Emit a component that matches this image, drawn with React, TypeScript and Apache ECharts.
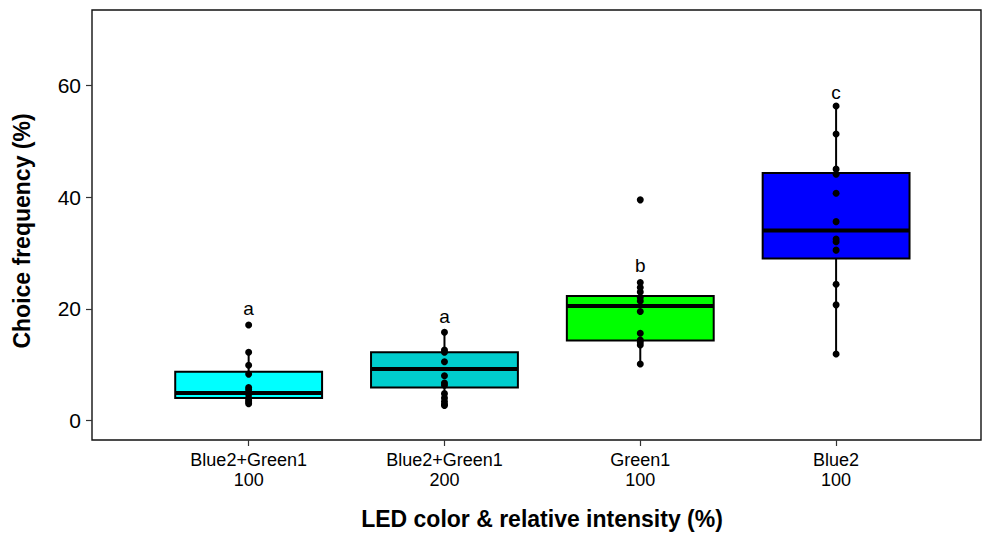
import React, { useEffect, useRef } from "react";
import * as echarts from "echarts";

const categories = ["Blue2+Green1\n100", "Blue2+Green1\n200", "Green1\n100", "Blue2\n100"];
const boxColors = ["#00FFFF", "#00CDCD", "#00FF00", "#0000FF"];
// [lower whisker, Q1, median, Q3, upper whisker]
const boxStats = [
  [3.0, 4.0, 4.9, 8.7, 12.2],
  [2.7, 5.9, 9.2, 12.2, 15.8],
  [10.1, 14.3, 20.5, 22.3, 24.7],
  [11.9, 29.0, 34.0, 44.3, 56.3],
];
const pointsG1 = [17.1, 12.2, 9.9, 8.3, 5.9, 5.5, 5.0, 4.7, 4.0, 3.6, 3.3, 3.0];
const pointsG2 = [15.8, 12.6, 12.2, 10.5, 8.0, 6.7, 6.3, 4.8, 4.0, 3.4, 2.9, 2.7];
const pointsG3 = [39.5, 24.7, 23.8, 23.0, 22.0, 21.4, 19.5, 15.6, 14.4, 14.0, 13.5, 10.1];
const pointsG4 = [56.3, 51.3, 45.0, 44.1, 40.7, 35.6, 32.5, 32.0, 30.5, 24.4, 20.7, 11.9];
const sigLetters = ["a", "a", "b", "c"];
const sigY = [20.1, 18.6, 27.8, 58.8];
const yTicks = [0, 20, 40, 60];
const xTicks = [0, 1, 2, 3];

const FONT = "Liberation Sans, Arial, sans-serif";

export default function App() {
  const ref = useRef<HTMLDivElement>(null);
  useEffect(() => {
    if (!ref.current) return;
    const chart = echarts.init(ref.current, null, { renderer: "svg" });
    const allPoints = [pointsG1, pointsG2, pointsG3, pointsG4];
    const scatterData: number[][] = [];
    allPoints.forEach((arr, i) => arr.forEach((v) => scatterData.push([i, v])));

    chart.setOption({
      animation: false,
      backgroundColor: "#ffffff",
      grid: { left: 92, top: 10, width: 889, height: 430, show: true, borderColor: "#111", borderWidth: 1.4, backgroundColor: "transparent" },
      xAxis: {
        type: "value",
        min: -0.8,
        max: 3.74,
        splitLine: { show: false },
        axisLine: { show: false, onZero: false },
        axisTick: { show: true, customValues: xTicks, length: 6, lineStyle: { color: "#333", width: 1.2 } },
        axisLabel: {
          customValues: xTicks,
          formatter: (v: number) => categories[Math.round(v)] ?? "",
          color: "#000",
          fontFamily: FONT,
          fontSize: 18,
          lineHeight: 20,
          margin: 10,
        },
      },
      yAxis: {
        type: "value",
        min: -3.5,
        max: 73.5,
        splitLine: { show: false },
        axisLine: { show: false, onZero: false },
        axisTick: { show: true, customValues: yTicks, length: 6, lineStyle: { color: "#333", width: 1.2 } },
        axisLabel: { customValues: yTicks, color: "#000", fontFamily: FONT, fontSize: 21, margin: 11 },
      },
      graphic: [
        {
          type: "text",
          x: 22,
          y: 231,
          rotation: Math.PI / 2,
          style: { text: "Choice frequency (%)", font: "bold 23px " + FONT, fill: "#000", align: "center", verticalAlign: "middle" },
        },
        {
          type: "text",
          x: 542,
          y: 519,
          style: { text: "LED color & relative intensity (%)", font: "bold 23px " + FONT, fill: "#000", align: "center", verticalAlign: "middle" },
        },
      ],
      series: [
        {
          type: "custom",
          data: boxStats.map((s, i) => [i, ...s]),
          encode: { x: 0, y: [1, 2, 3, 4, 5] },
          z: 2,
          renderItem: (params: any, api: any) => {
            const i = api.value(0);
            const lo = api.coord([i, api.value(1)]);
            const q1 = api.coord([i, api.value(2)]);
            const med = api.coord([i, api.value(3)]);
            const q3 = api.coord([i, api.value(4)]);
            const hi = api.coord([i, api.value(5)]);
            const w = api.size([0.75, 0])[0];
            const cx = lo[0];
            return {
              type: "group",
              children: [
                { type: "line", shape: { x1: cx, y1: lo[1], x2: cx, y2: hi[1] }, style: { stroke: "#000", lineWidth: 2 } },
                {
                  type: "rect",
                  shape: { x: cx - w / 2, y: q3[1], width: w, height: q1[1] - q3[1] },
                  style: { fill: boxColors[params.dataIndex], stroke: "#000", lineWidth: 2 },
                },
                { type: "line", shape: { x1: cx - w / 2, y1: med[1], x2: cx + w / 2, y2: med[1] }, style: { stroke: "#000", lineWidth: 4 } },
              ],
            };
          },
        },
        {
          type: "scatter",
          data: scatterData,
          symbolSize: 7,
          itemStyle: { color: "#000", opacity: 1 },
          z: 3,
        },
        {
          type: "custom",
          data: sigY.map((v, i) => [i, v]),
          encode: { x: 0, y: 1 },
          z: 4,
          renderItem: (params: any, api: any) => {
            const p = api.coord([api.value(0), api.value(1)]);
            return {
              type: "text",
              x: p[0],
              y: p[1],
              style: { text: sigLetters[params.dataIndex], font: "19px " + FONT, fill: "#000", align: "center", verticalAlign: "middle" },
            };
          },
        },
      ],
    });
    return () => chart.dispose();
  }, []);
  return <div ref={ref} style={{ position: "fixed", left: 0, top: 0, width: 982, height: 533 }} />;
}
